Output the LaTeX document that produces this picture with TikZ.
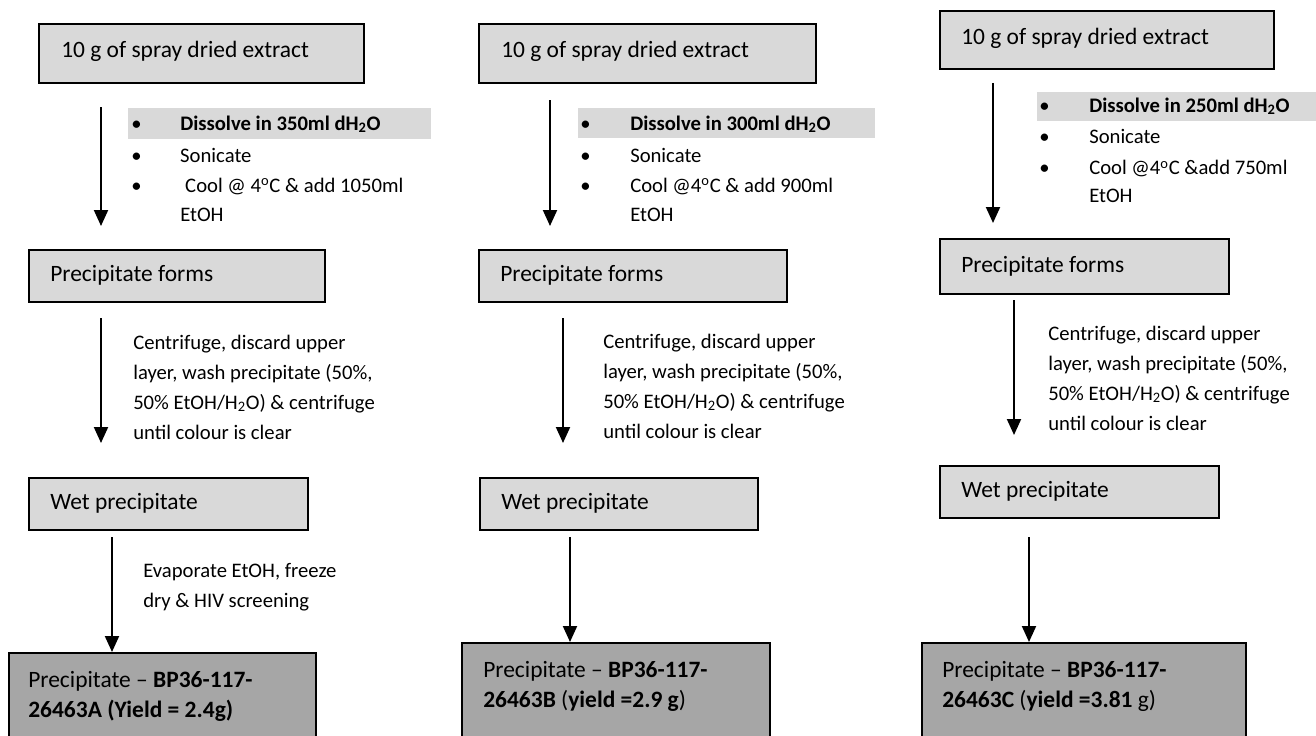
\documentclass[tikz,border=0pt]{standalone}
\usepackage{fontspec}
\setmainfont{Carlito}
\usetikzlibrary{arrows.meta}
\definecolor{lightbox}{HTML}{D9D9D9}
\definecolor{darkbox}{HTML}{A6A6A6}
\definecolor{hlgray}{HTML}{D9D9D9}
\newcommand\mybul[1]{\makebox[#1][l]{\textbullet}}
\tikzset{
  lbox/.style={draw=black, line width=1.2pt, fill=lightbox, rectangle, anchor=north west, inner sep=0pt},
  dbox/.style={draw=black, line width=1.2pt, fill=darkbox, rectangle, anchor=north west, inner sep=0pt},
  hlbar/.style={fill=hlgray, draw=none, rectangle, anchor=north west, inner sep=0pt},
  txt/.style={anchor=base west, inner sep=0pt, font=\fontsize{15.5}{22.5}\selectfont},
  bigtxt/.style={anchor=base west, inner sep=0pt, font=\fontsize{17.6}{22.5}\selectfont},
  flow/.style={line width=1.5pt, -{Triangle[width=10.5pt,length=12pt]}},
}
\begin{document}
\begin{tikzpicture}[x=0.75pt,y=-0.75pt]
\useasboundingbox (0,0) rectangle (1316,735);
\clip (0,0) rectangle (1316,735);
\fill[white] (0,0) rectangle (1316,735);

% ---------------- Column 1 ----------------
\node[lbox, minimum width=243.75pt, minimum height=44.25pt] (c1b1) at (38,23) {};
\node[bigtxt] (c1t1) at (61,58) {10 g of spray dried extract};
\node[hlbar, minimum width=227.25pt, minimum height=23.25pt] (c1hl) at (128,108) {};
\node[txt] (c1list) at (131,130) {\begin{tabular}[t]{@{}l@{}}
\mybul{36.75pt}\textbf{Dissolve in 350ml dH\textsubscript{2}O}\\[1.5pt]
\mybul{36.75pt}Sonicate\\[0.4pt]
\mybul{36.75pt}\hspace{3.75pt}Cool @ 4\textsuperscript{o}C \& add 1050ml\\[-1.1pt]
\hspace{36.75pt}EtOH
\end{tabular}};
\coordinate (c1a1s) at (101,107);
\coordinate (c1a1e) at (101,226);
\draw[flow] (c1a1s) -- (c1a1e);

\node[lbox, minimum width=222pt, minimum height=39pt] (c1b2) at (28,249) {};
\node[bigtxt] (c1t2a) at (50,281) {Precipitate forms};
\node[txt] (c1t2) at (133,349) {\begin{tabular}[t]{@{}l@{}}
Centrifuge, discard upper\\
layer, wash precipitate (50\%,\\
50\% EtOH/H\textsubscript{2}O) \& centrifuge\\
until colour is clear
\end{tabular}};
\coordinate (c1a2s) at (101,318);
\coordinate (c1a2e) at (101,443);
\draw[flow] (c1a2s) -- (c1a2e);

\node[lbox, minimum width=209.25pt, minimum height=39pt] (c1b3) at (28,477) {};
\node[bigtxt] (c1t3a) at (50,509) {Wet precipitate};
\node[txt] (c1t3) at (143,577) {\begin{tabular}[t]{@{}l@{}}
Evaporate EtOH, freeze\\
dry \& HIV screening
\end{tabular}};
\node[dbox, minimum width=230.25pt, minimum height=82.5pt] (c1b4) at (8,652) {};
\node[bigtxt] (c1t4) at (28,687) {\begin{tabular}[t]{@{}l@{}}
Precipitate -- \textbf{BP36-117-}\\
\textbf{26463A (Yield = 2.4g)}
\end{tabular}};
\coordinate (c1a3s) at (112,537);
\draw[flow] (c1a3s) -- (c1a3s |- c1b4.north);

% ---------------- Column 2 ----------------
\node[lbox, minimum width=252.75pt, minimum height=44.25pt] (c2b1) at (478,23) {};
\node[bigtxt] (c2t1) at (501,58) {10 g of spray dried extract};
\node[hlbar, minimum width=222.75pt, minimum height=22.5pt] (c2hl) at (578,108) {};
\node[txt] (c2list) at (580,130) {\begin{tabular}[t]{@{}l@{}}
\mybul{37.5pt}\textbf{Dissolve in 300ml dH\textsubscript{2}O}\\[1.5pt]
\mybul{37.5pt}Sonicate\\[0.4pt]
\mybul{37.5pt}Cool @4\textsuperscript{o}C \& add 900ml\\[-1.1pt]
\hspace{37.5pt}EtOH
\end{tabular}};
\coordinate (c2a1s) at (550,100);
\coordinate (c2a1e) at (550,226);
\draw[flow] (c2a1s) -- (c2a1e);

\node[lbox, minimum width=231pt, minimum height=39pt] (c2b2) at (478,249) {};
\node[bigtxt] (c2t2a) at (500,281) {Precipitate forms};
\node[txt] (c2t2) at (603,348) {\begin{tabular}[t]{@{}l@{}}
Centrifuge, discard upper\\
layer, wash precipitate (50\%,\\
50\% EtOH/H\textsubscript{2}O) \& centrifuge\\
until colour is clear
\end{tabular}};
\coordinate (c2a2s) at (563,318);
\coordinate (c2a2e) at (563,443);
\draw[flow] (c2a2s) -- (c2a2e);

\node[lbox, minimum width=208.5pt, minimum height=39pt] (c2b3) at (479,477) {};
\node[bigtxt] (c2t3a) at (501,509) {Wet precipitate};
\node[dbox, minimum width=231pt, minimum height=90pt] (c2b4) at (461,642) {};
\node[bigtxt] (c2t4) at (483,677) {\begin{tabular}[t]{@{}l@{}}
Precipitate -- \textbf{BP36-117-}\\
\textbf{26463B} (\textbf{yield =2.9 g})
\end{tabular}};
\coordinate (c2a3s) at (570,537);
\draw[flow] (c2a3s) -- (c2a3s |- c2b4.north);

% ---------------- Column 3 ----------------
\node[lbox, minimum width=250.5pt, minimum height=43.5pt] (c3b1) at (939,10) {};
\node[bigtxt] (c3t1) at (961,45) {10 g of spray dried extract};
\node[hlbar, minimum width=209.25pt, minimum height=21.75pt] (c3hl) at (1037,92) {};
\node[txt] (c3list) at (1039,112) {\begin{tabular}[t]{@{}l@{}}
\mybul{37.5pt}\textbf{Dissolve in 250ml dH\textsubscript{2}O}\\[1.5pt]
\mybul{37.5pt}Sonicate\\[0.75pt]
\mybul{37.5pt}Cool @4\textsuperscript{o}C \&add 750ml\\[-2.25pt]
\hspace{37.5pt}EtOH
\end{tabular}};
\coordinate (c3a1s) at (993,83);
\coordinate (c3a1e) at (993,223);
\draw[flow] (c3a1s) -- (c3a1e);

\node[lbox, minimum width=216.75pt, minimum height=41.25pt] (c3b2) at (939,238) {};
\node[bigtxt] (c3t2a) at (961,272) {Precipitate forms};
\node[txt] (c3t2) at (1048,340) {\begin{tabular}[t]{@{}l@{}}
Centrifuge, discard upper\\
layer, wash precipitate (50\%,\\
50\% EtOH/H\textsubscript{2}O) \& centrifuge\\
until colour is clear
\end{tabular}};
\coordinate (c3a2s) at (1014,300);
\coordinate (c3a2e) at (1014,435);
\draw[flow] (c3a2s) -- (c3a2e);

\node[lbox, minimum width=209.25pt, minimum height=39pt] (c3b3) at (939,465) {};
\node[bigtxt] (c3t3a) at (961,497) {Wet precipitate};
\node[dbox, minimum width=243pt, minimum height=90pt] (c3b4) at (921,642) {};
\node[bigtxt] (c3t4) at (942,677) {\begin{tabular}[t]{@{}l@{}}
Precipitate -- \textbf{BP36-117-}\\
\textbf{26463C} (\textbf{yield =3.81} g)
\end{tabular}};
\coordinate (c3a3s) at (1029,537);
\draw[flow] (c3a3s) -- (c3a3s |- c3b4.north);
\end{tikzpicture}
\end{document}
